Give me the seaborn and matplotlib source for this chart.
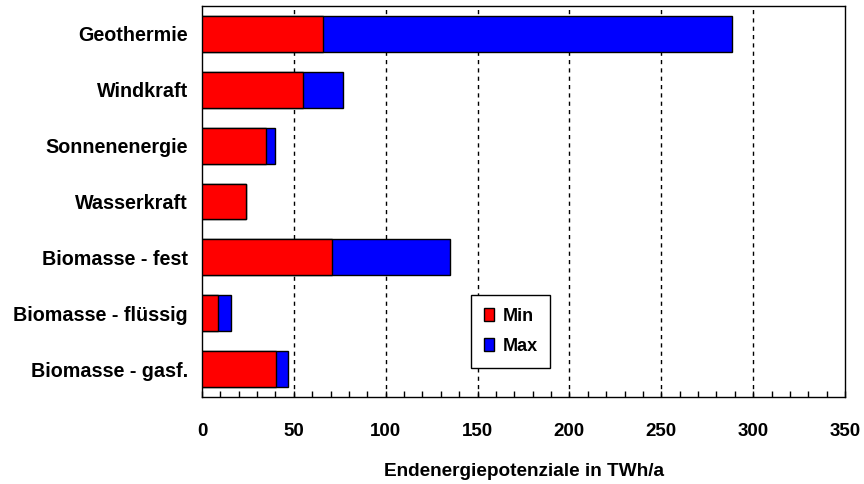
import matplotlib
matplotlib.use("Agg")
import matplotlib.pyplot as plt
from matplotlib.ticker import MultipleLocator
from matplotlib.patches import Patch
import seaborn as sns
import pandas as pd

categories = ["Geothermie", "Windkraft", "Sonnenenergie", "Wasserkraft",
              "Biomasse - fest", "Biomasse - flüssig", "Biomasse - gasf."]
min_values = [66, 55, 35, 24, 71, 8.5, 40.5]
max_values = [288.5, 77, 40, 24, 135, 16, 47]
x_ticks = [0, 50, 100, 150, 200, 250, 300, 350]

df = pd.DataFrame({"Kategorie": categories, "Min": min_values, "Max": max_values})

sns.set_theme(style="white")
plt.rcParams["font.family"] = ["Liberation Sans", "DejaVu Sans"]
plt.rcParams["font.weight"] = "bold"
plt.rcParams["text.color"] = "black"
plt.rcParams["axes.labelcolor"] = "black"
plt.rcParams["xtick.color"] = "black"
plt.rcParams["ytick.color"] = "black"

fig = plt.figure(figsize=(8.64, 4.84), dpi=100)
ax = fig.add_axes([202 / 864, 1 - 397 / 484, 643 / 864, 391 / 484])

sns.barplot(data=df, y="Kategorie", x="Max", orient="h", color="#0000ff",
            saturation=1, width=0.64, edgecolor="black", linewidth=1, ax=ax, zorder=3)
sns.barplot(data=df, y="Kategorie", x="Min", orient="h", color="#ff0000",
            saturation=1, width=0.64, edgecolor="black", linewidth=1, ax=ax, zorder=4)

ax.set_xlim(0, 350)
ax.set_ylim(6.5, -0.5)
ax.set_xticks(x_ticks)
ax.set_xticklabels([str(t) for t in x_ticks], fontsize=13.5, fontweight="bold")
ax.xaxis.set_minor_locator(MultipleLocator(10))
ax.tick_params(axis="x", which="both", direction="in", bottom=True, top=False,
               length=4, width=1, color="black", pad=19, labelcolor="black")
ax.tick_params(axis="y", left=False, length=0, pad=10, labelcolor="black")
for lbl in ax.get_yticklabels():
    lbl.set_fontsize(14.2)
    lbl.set_fontweight("bold")

for t in x_ticks[1:-1]:
    ax.axvline(t, color="black", linestyle=(0, (3, 3)), linewidth=1, zorder=1)

for side in ["left", "right", "top", "bottom"]:
    ax.spines[side].set_visible(True)
    ax.spines[side].set_color("black")
    ax.spines[side].set_linewidth(1)

ax.set_ylabel("")
ax.set_xlabel("Endenergiepotenziale in TWh/a", fontsize=13.7, fontweight="bold",
              labelpad=16, color="black")

handles = [Patch(facecolor="#ff0000", edgecolor="black", label="Min"),
           Patch(facecolor="#0000ff", edgecolor="black", label="Max")]
leg = ax.legend(handles=handles, loc="upper left",
                bbox_to_anchor=((471 - 202) / 643, (397 - 295) / 391),
                frameon=True, fancybox=False, edgecolor="black", framealpha=1,
                prop={"size": 13, "weight": "bold"}, handlelength=0.6,
                handleheight=0.75, handletextpad=0.45, labelspacing=0.75,
                borderpad=0.7, borderaxespad=0)
leg.get_frame().set_linewidth(1)
leg.set_zorder(5)

fig.savefig("out.png", dpi=100)
